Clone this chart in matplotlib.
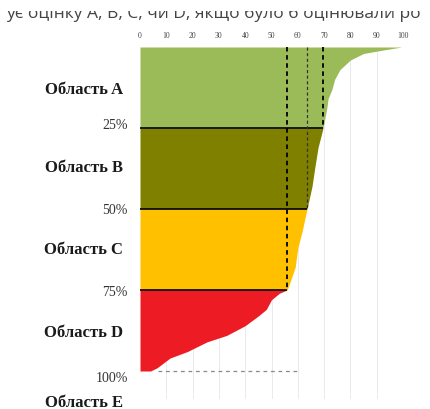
import matplotlib
matplotlib.use("Agg")
import matplotlib.pyplot as plt

# Sorted score profile (percent of ranked list -> score), one piece per area
green_pct = [0, 1, 2, 4, 7, 10, 13, 16, 19, 25]
green_val = [99.5, 92, 85, 80, 76, 74, 73, 71.5, 71, 69.6]
olive_pct = [25, 31, 37, 43, 50]
olive_val = [69.6, 67.7, 66.5, 65.4, 63.5]
yellow_pct = [50, 57, 62, 68, 75]
yellow_val = [63.5, 61.6, 60, 59, 56]
red_pct = [75, 76, 78, 81, 83, 86, 89, 91, 94, 96, 99, 100]
red_val = [55.9, 53, 50, 48, 45, 40, 33, 25.5, 18, 11.4, 6.5, 4]

# Quartile cut points and the score at each cut
quart_pct = [25, 50, 75]
quart_val = [69.6, 63.5, 55.9]
quart_labels = ["25%", "50%", "75%", "100%"]
area_labels = ["Область A", "Область B", "Область C", "Область D", "Область E"]
tick_vals = [0, 10, 20, 30, 40, 50, 60, 70, 80, 90, 100]
bottom_dash = [7, 60]

colors = ["#9bbb59", "#7f7f00", "#ffc000", "#ed1c24"]

fig = plt.figure(figsize=(4.31, 4.10), dpi=100)
W, H = 431, 410
top_px, bot_px = 48, 400
ax = fig.add_axes([140 / W, 1 - bot_px / H, 263 / W, (bot_px - top_px) / H])
ymax = (bot_px - top_px) / 324 * 100
ax.set_xlim(0, 100)
ax.set_ylim(ymax, 0)

for x in tick_vals[1:]:
    ax.axvline(x, color="#e6e6e6", lw=0.6, zorder=0)

for pct, val, c in zip([green_pct, olive_pct, yellow_pct, red_pct],
                       [green_val, olive_val, yellow_val, red_val], colors):
    ax.fill_betweenx(pct, 0, val, color=c, lw=0, zorder=1)

dash_styles = [dict(lw=1.3, color="black"), dict(lw=0.9, color="#333333"),
               dict(lw=1.3, color="black")]
for p, v, st in zip(quart_pct, quart_val, dash_styles):
    ax.plot([0, v], [p, p], color="black", lw=1.2, zorder=3, solid_capstyle="butt")
    ax.plot([v, v], [0, p], ls=(0, (2.5, 2)), zorder=4, **st)

ax.plot(bottom_dash, [100, 100], color="#888888", lw=0.9, ls=(0, (3, 3)), zorder=3)

ax.xaxis.tick_top()
ax.set_xticks(tick_vals)
ax.set_xticklabels([str(t) for t in tick_vals], fontsize=5.5,
                   family="Liberation Serif", color="#444444")
ax.tick_params(axis="x", length=0, pad=6)
ax.set_yticks([])
for s in ax.spines.values():
    s.set_visible(False)

serif = "Liberation Serif"
x_pct = -4.6
for p, lab in zip([24, 50, 75.6, 101.9], quart_labels):
    ax.text(x_pct, p, lab, ha="right", va="center", fontsize=10, family=serif,
            color="#333333", clip_on=False)
x_area = -6.5
for p, lab in zip([13, 37, 62.5, 88, 109.6], area_labels):
    ax.text(x_area, p, lab, ha="right", va="center", fontsize=12, family=serif,
            weight="bold", color="#1a1a1a", clip_on=False)

# Line of running text above the chart, its upper half cut off
tax = fig.add_axes([0, 1 - 26 / H, 1, 14 / H])
tax.set_xlim(0, W)
tax.set_ylim(26, 12)
tax.axis("off")
tax.text(6, 18, "ує оцінку A, B, C, чи D, якщо було б оцінювали ро",
         fontsize=12.5, family="Open Sans", color="#444444", va="baseline",
         clip_on=True)

fig.savefig("out.png", dpi=100)
